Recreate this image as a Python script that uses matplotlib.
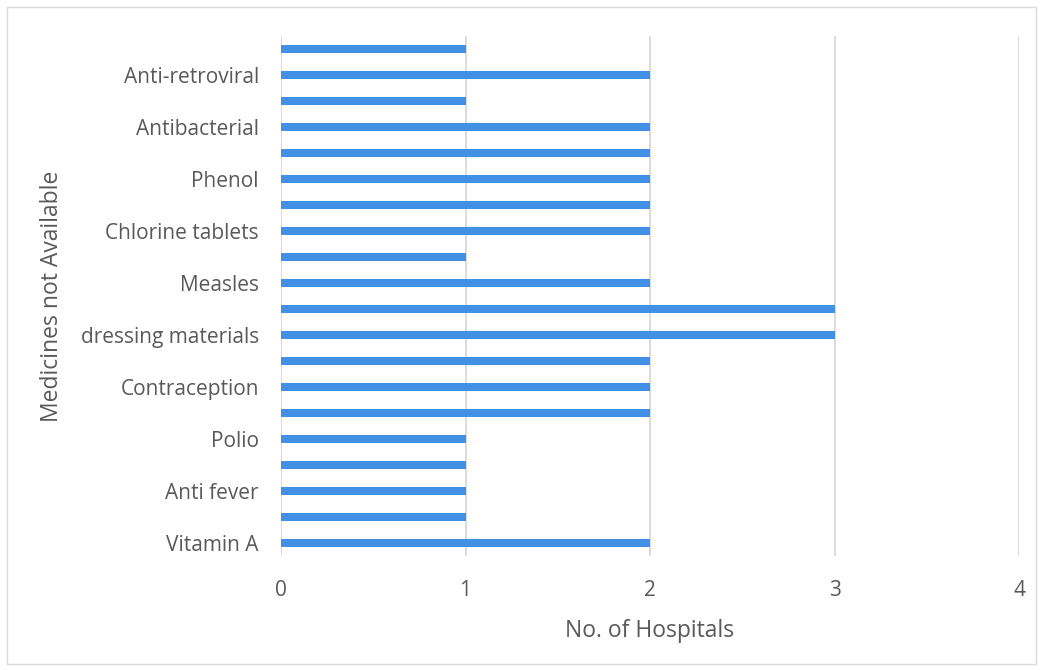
import matplotlib
matplotlib.use("Agg")
from matplotlib import pyplot as plt
from matplotlib.patches import Rectangle

# categories bottom -> top; every other label is hidden in the original chart
medicines = ["Vitamin A", "", "Anti fever", "", "Polio", "",
             "Contraception", "", "dressing materials", "",
             "Measles", "", "Chlorine tablets", "", "Phenol", "",
             "Antibacterial", "", "Anti-retroviral", ""]
hospitals = [2, 1, 1, 1, 1, 2, 2, 2, 3, 3,
             2, 1, 2, 2, 2, 2, 2, 1, 2, 1]

plt.rcParams['font.family'] = ['Open Sans', 'DejaVu Sans']
text_color = '#595959'

fig = plt.figure(figsize=(10.42, 6.7), dpi=100)
ax = fig.add_axes([0.2697, 0.170, 0.7083, 0.776])

pos = list(range(len(medicines)))
ax.barh(pos, hospitals, height=0.32, color='#4190E5', zorder=3)

ax.set_xlim(0, 4)
ax.set_ylim(-0.5, len(medicines) - 0.5)
ax.set_xticks([0, 1, 2, 3, 4])
ax.set_yticks(pos)
ax.set_yticklabels(medicines)
ax.grid(axis='x', color='#d9d9d9', linewidth=1.3, zorder=0)
ax.tick_params(axis='both', length=0, labelsize=15, labelcolor=text_color)
ax.tick_params(axis='x', pad=17)
ax.tick_params(axis='y', pad=16)
for s in ax.spines.values():
    s.set_visible(False)

ax.set_xlabel('No. of Hospitals', fontsize=16.5, color=text_color, labelpad=13)
ax.set_ylabel('Medicines not Available', fontsize=16.5, color=text_color, labelpad=12)

# light border round the whole chart
fig.patches.append(Rectangle((0.007, 0.009), 0.987, 0.981, transform=fig.transFigure,
                             fill=False, edgecolor='#d9d9d9', linewidth=1))

fig.savefig('out.png', dpi=100)
